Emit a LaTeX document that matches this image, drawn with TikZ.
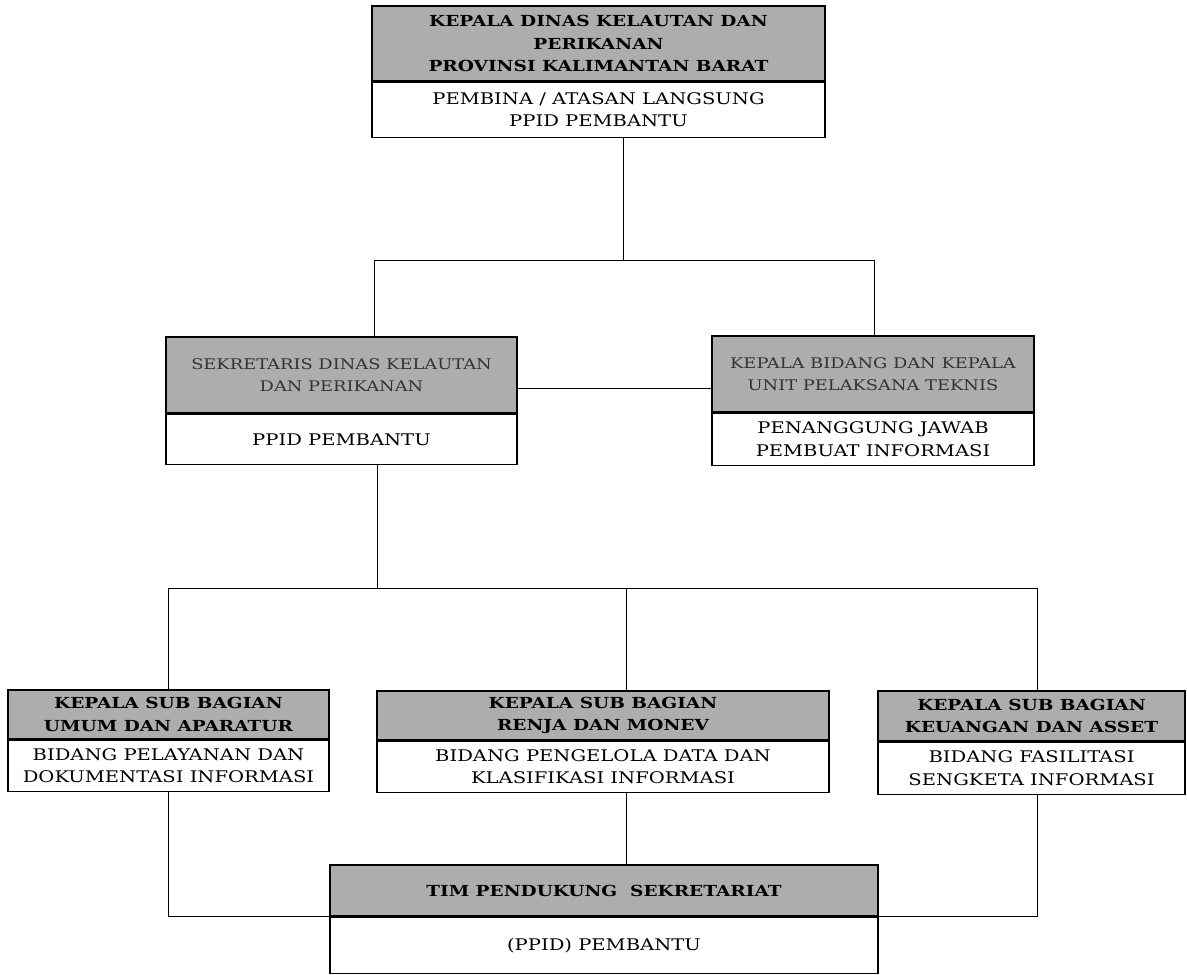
\documentclass[tikz,border=0pt]{standalone}
\usepackage{fontspec}
\setmainfont{DejaVu Serif}[FakeStretch=1.22]
\usepackage{tikz}
\usetikzlibrary{calc}

\begin{document}
\begin{tikzpicture}[x=0.025cm,y=-0.025cm]
      \tikzstyle{head}=[
        draw=black,
        fill=black!32,
        line width=0.9pt,
        inner sep=0pt,
        align=center,
        font=\fontsize{10.8}{16}\selectfont\bfseries,
      ]
      \tikzstyle{head2}=[head,font=\fontsize{10.4}{16}\selectfont\color{black!80}]
      \tikzstyle{body}=[
        draw=black,
        fill=white,
        line width=0.9pt,
        inner sep=0pt,
        align=center,
        anchor=north,
        font=\fontsize{11.4}{16}\selectfont,
      ]
      \tikzstyle{link}=[line width=0.6pt,draw=black]

      \useasboundingbox (0,0) rectangle (1187,974);

      % heads
      \node[head,minimum width=11.325cm,minimum height=1.875cm] (h1) at (598.5,43.5) {KEPALA DINAS KELAUTAN DAN\\PERIKANAN\\PROVINSI KALIMANTAN BARAT};
      \node[head2,minimum width=8.775cm,minimum height=1.9cm] (h2) at (341.5,375) {SEKRETARIS DINAS KELAUTAN\\DAN PERIKANAN};
      \node[head2,minimum width=8.05cm,minimum height=1.9cm] (h3) at (873,374) {KEPALA BIDANG DAN KEPALA\\UNIT PELAKSANA TEKNIS};
      \node[head,minimum width=8.025cm,minimum height=1.225cm] (h4) at (168.5,714.5) {KEPALA SUB BAGIAN\\UMUM DAN APARATUR};
      \node[head,minimum width=11.3cm,minimum height=1.225cm] (h5) at (603,715.5) {KEPALA SUB BAGIAN\\RENJA DAN MONEV};
      \node[head,minimum width=7.675cm,minimum height=1.25cm] (h6) at (1031.5,716) {KEPALA SUB BAGIAN\\KEUANGAN DAN ASSET};
      \node[head,minimum width=13.7cm,minimum height=1.275cm] (h7) at (604,890.5) {TIM PENDUKUNG~~SEKRETARIAT};

      % bodies
      \node[body,minimum width=11.325cm,minimum height=1.375cm] (b1) at (h1.south) {PEMBINA / ATASAN LANGSUNG\\PPID PEMBANTU};
      \node[body,minimum width=8.775cm,minimum height=1.25cm] (b2) at (h2.south) {PPID PEMBANTU};
      \node[body,minimum width=8.05cm,minimum height=1.3cm] (b3) at (h3.south) {PENANGGUNG JAWAB\\PEMBUAT INFORMASI};
      \node[body,minimum width=8.025cm,minimum height=1.275cm] (b4) at (h4.south) {BIDANG PELAYANAN DAN\\DOKUMENTASI INFORMASI};
      \node[body,minimum width=11.3cm,minimum height=1.275cm] (b5) at (h5.south) {BIDANG PENGELOLA DATA DAN\\KLASIFIKASI INFORMASI};
      \node[body,minimum width=7.675cm,minimum height=1.3cm] (b6) at (h6.south) {BIDANG FASILITASI\\SENGKETA INFORMASI};
      \node[body,minimum width=13.7cm,minimum height=1.4cm] (b7) at (h7.south) {(PPID) PEMBANTU};

      % junctions
      \coordinate (t1) at (623,260);
      \coordinate (t2) at (374,260);
      \coordinate (t3) at (874,260);
      \coordinate (s1) at (0,388);
      \coordinate (u1) at (377,588);
      \coordinate (u2) at (168,588);
      \coordinate (u3) at (1037,588);
      \coordinate (u4) at (626,588);

      \draw[link] (b1.south -| t1) -- (t1);
      \draw[link] (t2) -- (t3);
      \draw[link] (t2) -- (t2 |- h2.north);
      \draw[link] (t3) -- (t3 |- h3.north);
      \draw[link] (h2.east |- s1) -- (h3.west |- s1);
      \draw[link] (b2.south -| u1) -- (u1);
      \draw[link] (u2) -- (u3);
      \draw[link] (u2) -- (u2 |- h4.north);
      \draw[link] (u4) -- (u4 |- h5.north);
      \draw[link] (u3) -- (u3 |- h6.north);
      \draw[link] (b4.south -| u2) -- (u2 |- h7.south west) -- (h7.south west);
      \draw[link] (b6.south -| u3) -- (u3 |- h7.south east) -- (h7.south east);
      \draw[link] (b5.south -| u4) -- (u4 |- h7.north);
\end{tikzpicture}
\end{document}
